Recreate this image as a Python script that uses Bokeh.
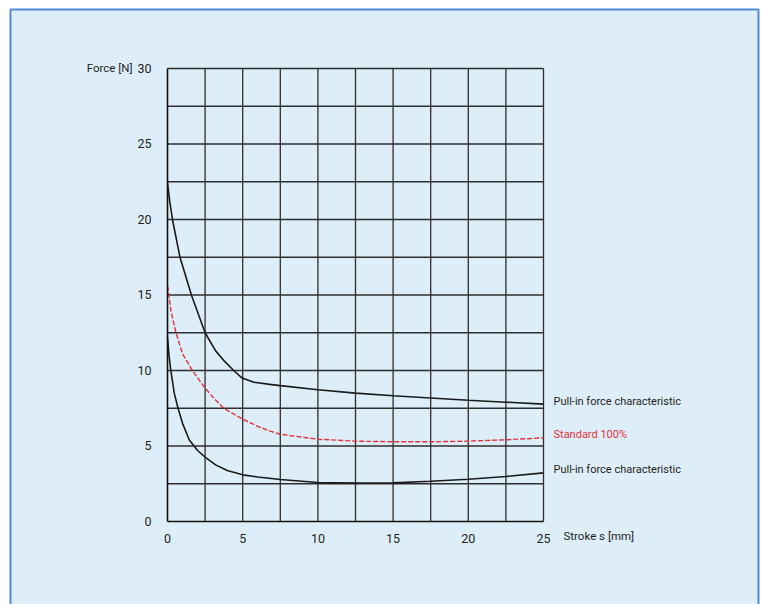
from bokeh.plotting import figure
from bokeh.models import Range1d, Label, BoxAnnotation, FixedTicker
from bokeh.embed import file_html
from bokeh.resources import INLINE

# Stroke positions [mm] and force values [N] for the three characteristics
upper_s = [0, 0.15, 0.33, 0.83, 1.59, 2.5, 3.2, 3.8, 4.4, 4.96, 5.7, 6.8, 7.5, 10, 12.5, 15, 17.5, 20, 22.5, 25]
upper_f = [22.4, 21.2, 20.0, 17.5, 15.0, 12.5, 11.3, 10.6, 10.0, 9.5, 9.23, 9.08, 9.0, 8.72, 8.5, 8.33, 8.18, 8.03, 7.9, 7.77]

standard_s = [0, 0.1, 0.22, 0.55, 1.0, 1.65, 2.42, 3.0, 3.74, 4.96, 6.0, 6.83, 7.5, 10, 12.5, 15, 17.5, 20, 22.5, 25]
standard_f = [15.6, 15.0, 14.0, 12.55, 11.1, 10.0, 8.94, 8.25, 7.5, 6.8, 6.3, 5.98, 5.78, 5.45, 5.32, 5.28, 5.28, 5.32, 5.41, 5.54]

lower_s = [0, 0.1, 0.22, 0.45, 0.7, 1.0, 1.45, 2.0, 2.5, 3.2, 3.97, 5.0, 6.0, 7.5, 10, 12.5, 15, 17.5, 20, 22.5, 25]
lower_f = [12.2, 11.0, 10.0, 8.5, 7.5, 6.5, 5.4, 4.7, 4.26, 3.75, 3.38, 3.09, 2.95, 2.78, 2.58, 2.54, 2.56, 2.67, 2.8, 2.98, 3.22]

x_ticks = [0, 5, 10, 15, 20, 25]
y_ticks = [0, 5, 10, 15, 20, 25, 30]
x_grid = [2.5, 5, 7.5, 10, 12.5, 15, 17.5, 20, 22.5, 25]
y_grid = [2.5, 5, 7.5, 10, 12.5, 15, 17.5, 20, 22.5, 25, 27.5, 30]

series_labels = ["Pull-in force characteristic", "Standard 100%", "Pull-in force characteristic"]

FONT = "Roboto"
INK = "#231f20"
RED = "#e2323c"
PANEL = "#deeef9"
GRID = "#2e2e2e"

x_min, x_max = x_ticks[0], x_ticks[-1]
y_min, y_max = y_ticks[0], y_ticks[-1]

# The frame fills the whole canvas; the ranges leave room around the grid
# for tick labels and captions, and the axes are pinned at zero.
p = figure(width=761, height=604,
           x_range=Range1d(-11.104, 39.495), y_range=Range1d(-5.497, 34.503),
           output_backend="svg", toolbar_location=None,
           min_border=0)
p.title.visible = False
p.border_fill_color = "white"
p.background_fill_color = "white"
p.outline_line_color = None
p.xgrid.visible = False
p.ygrid.visible = False

# light blue panel behind the chart
panel = BoxAnnotation(left=10, right=758, top=9, bottom=640,
                      left_units="canvas", right_units="canvas",
                      top_units="canvas", bottom_units="canvas",
                      fill_color=PANEL, fill_alpha=1.0,
                      line_color="#3f7fd4", line_alpha=0.9, line_width=2,
                      level="image")
p.add_layout(panel)

# grid lines every 2.5 units
p.segment(x0=x_grid, y0=[y_min] * len(x_grid), x1=x_grid, y1=[y_max] * len(x_grid),
          line_color=GRID, line_width=1.3)
p.segment(x0=[x_min] * len(y_grid), y0=y_grid, x1=[x_max] * len(y_grid), y1=y_grid,
          line_color=GRID, line_width=1.3)

p.xaxis.fixed_location = 0
p.yaxis.fixed_location = 0
p.xaxis.bounds = (x_min, x_max)
p.yaxis.bounds = (y_min, y_max)
p.xaxis.ticker = FixedTicker(ticks=x_ticks)
p.yaxis.ticker = FixedTicker(ticks=y_ticks)
for ax in (p.xaxis, p.yaxis):
    ax.axis_line_color = "#111111"
    ax.axis_line_width = 1.6
    ax.major_tick_line_color = None
    ax.minor_tick_line_color = None
    ax.major_label_text_font = FONT
    ax.major_label_text_font_size = "12.5px"
    ax.major_label_text_color = INK
p.xaxis.major_label_standoff = 7
p.yaxis.major_label_standoff = 10

p.line(upper_s, upper_f, line_color="#1a1a1a", line_width=1.6)
p.line(lower_s, lower_f, line_color="#1a1a1a", line_width=1.6)
p.line(standard_s, standard_f, line_color=RED, line_width=1.4, line_dash="5 2")

p.add_layout(Label(x=x_min, y=y_max, x_offset=-35, text="Force [N]", text_align="right",
                   text_baseline="middle", text_font=FONT,
                   text_font_size="11.5px", text_color=INK))
p.add_layout(Label(x=x_max, y=y_min, x_offset=20, y_offset=-15, text="Stroke s [mm]",
                   text_align="left", text_baseline="middle", text_font=FONT,
                   text_font_size="11.5px", text_color=INK))

ends = [upper_f[-1], standard_f[-1], lower_f[-1]]
colors = [INK, RED, INK]
for txt, yv, c in zip(series_labels, ends, colors):
    p.add_layout(Label(x=x_max, y=yv, x_offset=10, y_offset=3, text=txt,
                       text_align="left", text_baseline="middle", text_font=FONT,
                       text_font_size="11px", text_color=c))

open("out.html", "w").write(file_html(p, INLINE))
